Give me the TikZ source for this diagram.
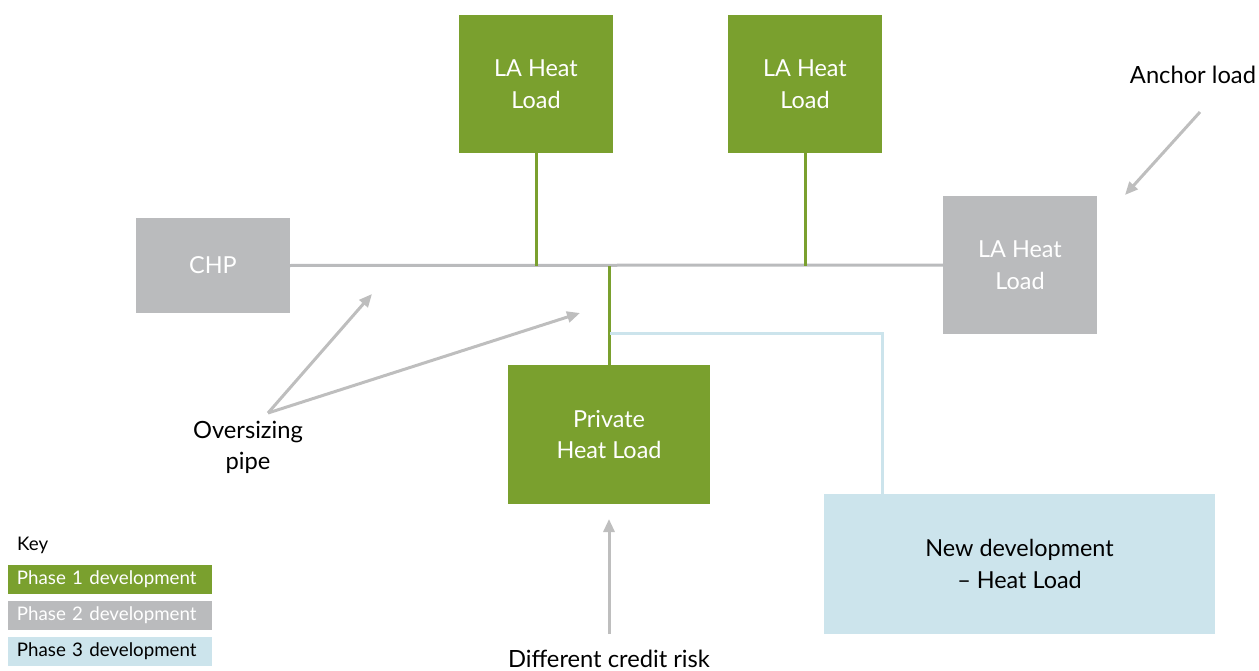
\documentclass[tikz,border=0pt]{standalone}
\usepackage{fontspec}
\setmainfont{Lato}
\usetikzlibrary{arrows.meta}
\definecolor{pgreen}{HTML}{7AA02E}
\definecolor{pgray}{HTML}{BABBBD}
\definecolor{pblue}{HTML}{CCE4EC}
\definecolor{agray}{HTML}{BEBEBE}
\tikzset{
  boxbase/.style={rectangle, draw=none, align=center, inner sep=0pt, font=\fontsize{23.5}{32}\selectfont},
  gbox/.style={boxbase, fill=pgreen, text=white},
  graybox/.style={boxbase, fill=pgray, text=white},
  bbox/.style={boxbase, fill=pblue, text=black},
  gline/.style={draw=pgreen, line width=3bp},
  grline/.style={draw=pgray, line width=3bp},
  bline/.style={draw=pblue, line width=3bp},
  callout/.style={draw=agray, line width=3bp, -{Triangle[length=13bp,width=11bp]}},
  lbl/.style={align=center, inner sep=0pt, font=\fontsize{23.8}{31}\selectfont},
  keybox/.style={rectangle, minimum width=204bp, minimum height=29bp, text width=186bp, align=left, inner xsep=9bp, inner ysep=0pt, font=\fontsize{18.8}{20}\selectfont},
}
\begin{document}
\begin{tikzpicture}[x=1bp, y=-1bp]
\useasboundingbox (0,0) rectangle (1259,671);
% boxes
\node[gbox, minimum width=154bp, minimum height=138bp] (la1) at (536,84) {LA Heat\\Load};
\node[gbox, minimum width=154bp, minimum height=138bp] (la2) at (805,84) {LA Heat\\Load};
\node[graybox, minimum width=154bp, minimum height=95bp] (chp) at (213,265.5) {CHP};
\node[graybox, minimum width=154bp, minimum height=138bp] (la3) at (1020,265) {LA Heat\\Load};
\node[gbox, minimum width=202bp, minimum height=139bp] (priv) at (609,434.5) {Private\\Heat Load};
\node[bbox, minimum width=391bp, minimum height=140bp] (newdev) at (1019.5,564) {New development\\-- Heat Load};
% main pipe
\draw[grline] (chp.east) -- (la3.west);
\draw[gline] (la1.south) -- (la1.south |- chp.east);
\draw[gline] (la2.south) -- (la2.south |- chp.east);
\draw[gline] (priv.north) -- (priv.north |- chp.east);
% phase 3 branch
\coordinate (tap) at (610,333);
\coordinate (bend) at (882,333);
\draw[bline] (tap) -- (bend) -- (bend |- newdev.north);
% labels
\node[lbl] (anchor) at (1193,75) {Anchor load};
\node[lbl] (overs) at (248,447) {Oversizing\\pipe};
\node[lbl, anchor=north] (credit) at (609,650) {Different credit risk};
% callout arrows
\coordinate (a1s) at (1200,112);
\coordinate (a1e) at (1125,195);
\draw[callout] (a1s) -- (a1e);
\coordinate (os) at (268,413);
\coordinate (oe1) at (372,294);
\coordinate (oe2) at (580,313);
\draw[callout] (os) -- (oe1);
\draw[callout] (os) -- (oe2);
\coordinate (cs) at (609,634);
\coordinate (ce) at (609,519);
\draw[callout] (cs) -- (ce);
% key
\node[anchor=west, inner sep=0pt, font=\fontsize{18.8}{20}\selectfont] (key) at (17,545) {Key};
\node[keybox, fill=pgreen, text=white] (k1) at (110,579.5) {Phase 1 development};
\node[keybox, fill=pgray, text=white] (k2) at (110,615.5) {Phase 2 development};
\node[keybox, fill=pblue, text=black] (k3) at (110,651.5) {Phase 3 development};
\end{tikzpicture}
\end{document}
